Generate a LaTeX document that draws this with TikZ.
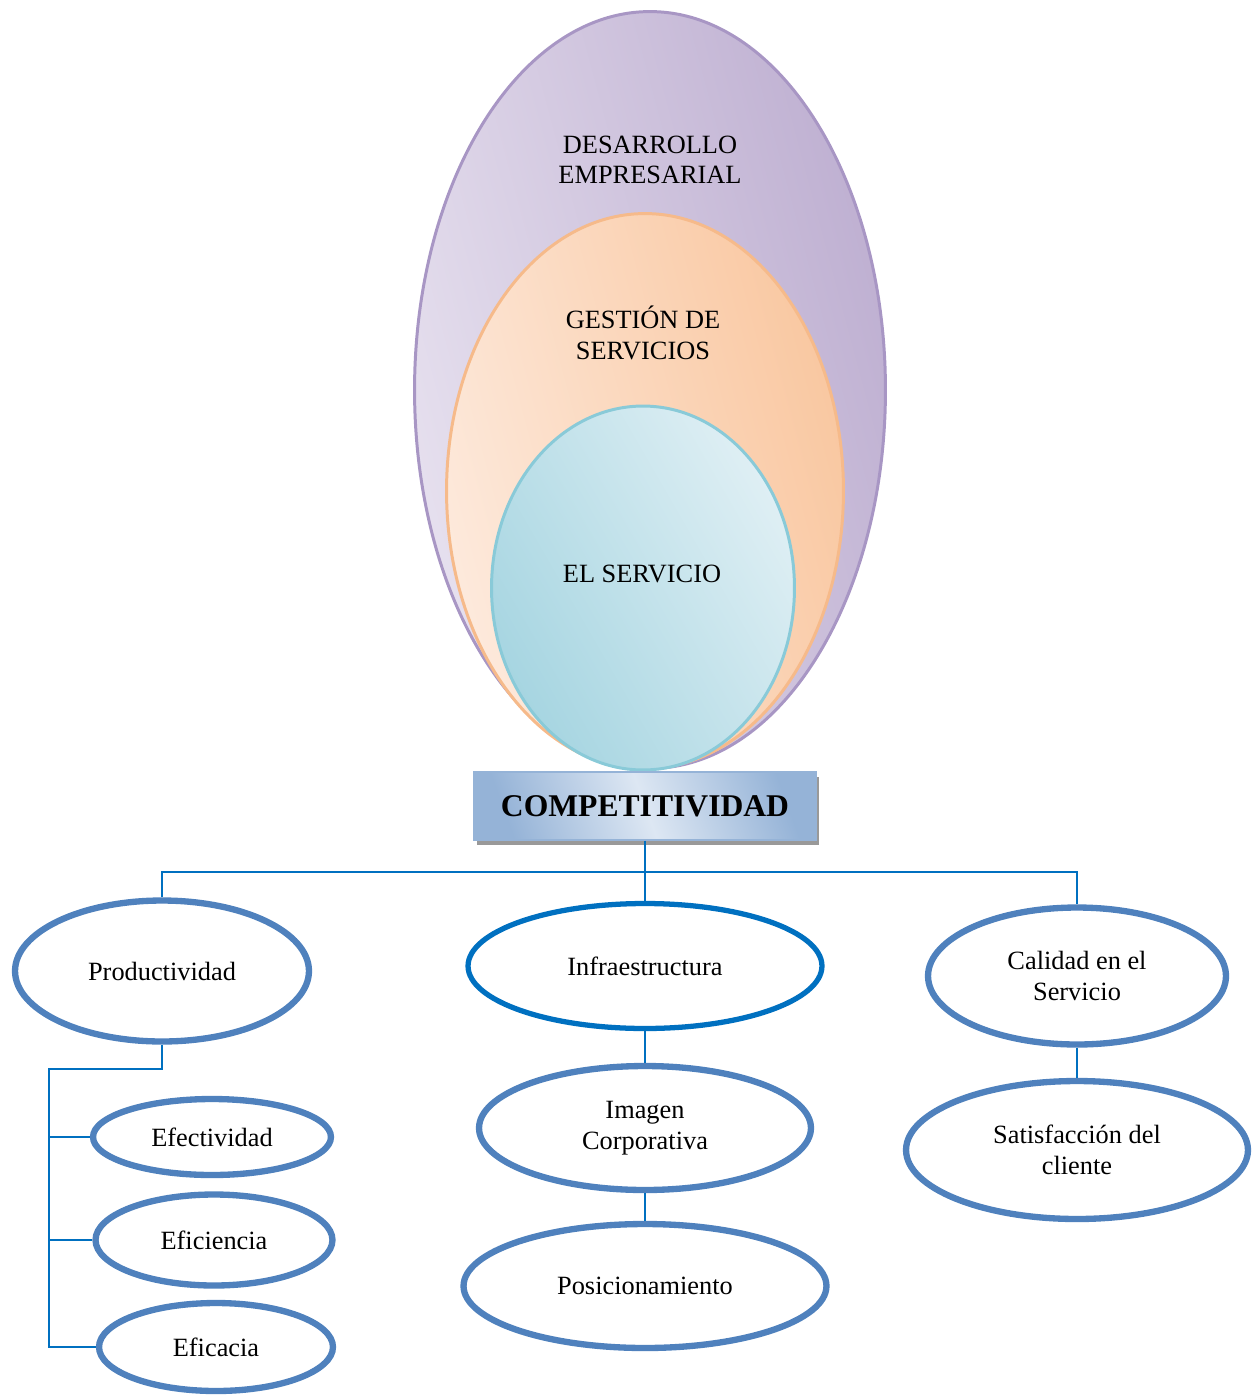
\documentclass[tikz,border=0pt]{standalone}
\usepackage{fontspec}
\setmainfont{Liberation Serif}
\usetikzlibrary{positioning, shapes.geometric, shadows, backgrounds}
\definecolor{lilaclaro}{RGB}{231,225,239}
\definecolor{lilaoscuro}{RGB}{190,175,209}
\definecolor{lilaborde}{RGB}{168,150,196}
\definecolor{naranjaclaro}{RGB}{253,234,221}
\definecolor{naranjaoscuro}{RGB}{249,199,160}
\definecolor{naranjaborde}{RGB}{246,186,138}
\definecolor{celesteclaro}{RGB}{223,239,244}
\definecolor{celesteoscuro}{RGB}{166,213,225}
\definecolor{celesteborde}{RGB}{137,202,216}
\definecolor{cajaclara}{RGB}{221,231,243}
\definecolor{cajaoscura}{RGB}{149,179,215}
\definecolor{lineaazul}{RGB}{0,112,192}
\definecolor{bordeazul}{RGB}{79,129,189}

\tikzset{
    texto/.style={font=\fontsize{15}{17.5}\selectfont, align=center},
    nivel/.style={ellipse, line width=1.7pt, inner sep=0pt},
    hoja/.style={ellipse, draw=bordeazul, line width=3.6pt, fill=white, inner sep=0pt, texto},
    enlace/.style={draw=lineaazul, line width=1.1pt},
}

\begin{document}
\begin{tikzpicture}[x=0.02cm, y=-0.02cm]
        \useasboundingbox (0,0) rectangle (1258,1396);

        % niveles concentricos
        \node[nivel, draw=lilaborde, left color=lilaclaro, right color=lilaoscuro, shading angle=105,
              minimum width=9.42cm, minimum height=15.14cm] (desarrollo) at (650,390) {};
        \node[nivel, draw=naranjaborde, left color=naranjaclaro, right color=naranjaoscuro, shading angle=105,
              minimum width=7.94cm, minimum height=11.1cm] (gestion) at (645,491) {};
        \node[nivel, draw=celesteborde, left color=celesteoscuro, right color=celesteclaro, shading angle=120,
              minimum width=6.06cm, minimum height=7.28cm] (servicio) at (643,588) {};

        \node[texto] (tdesarrollo) at (650,160) {DESARROLLO\\EMPRESARIAL};
        \node[texto] (tgestion) at (643,333) {GESTIÓN DE\\SERVICIOS};
        \node[texto] (tservicio) at (642,574) {EL SERVICIO};

        \node[draw=cajaoscura, line width=0.8pt, left color=cajaoscura, right color=cajaoscura, middle color=cajaclara,
              shading angle=110, minimum width=6.86cm, minimum height=1.36cm,
              drop shadow={shadow xshift=1.7pt, shadow yshift=-2.8pt, fill=black!40, opacity=1},
              font=\fontsize{18}{21}\selectfont\bfseries] (caja) at (645,806) {COMPETITIVIDAD};

        % ramas
        \node[hoja, minimum width=5.88cm, minimum height=2.82cm] (prod) at (162,971) {Productividad};
        \node[hoja, draw=lineaazul, line width=3pt, minimum width=7.08cm, minimum height=2.5cm] (infra) at (645,966) {Infraestructura};
        \node[hoja, minimum width=5.96cm, minimum height=2.74cm] (calidad) at (1077,976) {Calidad en el\\Servicio};

        \node[hoja, minimum width=4.76cm, minimum height=1.52cm] (efectividad) at (212,1137) {Efectividad};
        \node[hoja, minimum width=4.74cm, minimum height=1.82cm] (eficiencia) at (214,1240) {Eficiencia};
        \node[hoja, minimum width=4.68cm, minimum height=1.76cm] (eficacia) at (216,1347) {Eficacia};

        \node[hoja, minimum width=6.64cm, minimum height=2.48cm] (imagen) at (645,1128) {Imagen\\Corporativa};
        \node[hoja, minimum width=7.26cm, minimum height=2.48cm] (posicion) at (645,1286) {Posicionamiento};
        \node[hoja, minimum width=6.84cm, minimum height=2.76cm] (satisfaccion) at (1077,1150) {Satisfacción del\\cliente};

        \coordinate (bus) at (645,872);
        \coordinate (codo) at (49,1069);

        \draw[enlace] (caja.south) -- (bus) -- (infra.north);
        \draw[enlace] (prod.north) |- (bus) -| (calidad.north);
        \draw[enlace] (prod.south) |- (codo) |- (eficacia.west);
        \draw[enlace] (codo |- efectividad.west) -- (efectividad.west);
        \draw[enlace] (codo |- eficiencia.west) -- (eficiencia.west);
        \draw[enlace] (infra.south) -- (imagen.north);
        \draw[enlace] (imagen.south) -- (posicion.north);
        \draw[enlace] (calidad.south) -- (satisfaccion.north);
    \end{tikzpicture}
\end{document}
